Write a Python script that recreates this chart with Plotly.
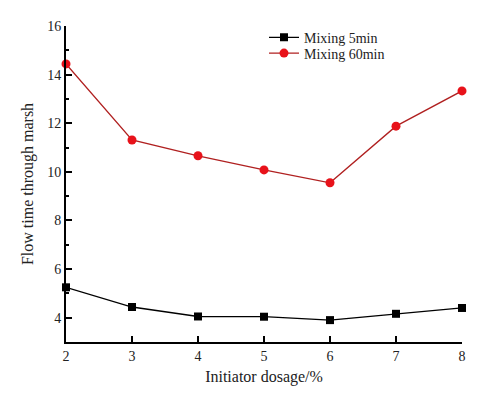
import plotly.graph_objects as go

dosage = [2, 3, 4, 5, 6, 7, 8]
mix_5min = [5.25, 4.44, 4.05, 4.04, 3.90, 4.16, 4.40]
mix_60min = [14.44, 11.31, 10.66, 10.08, 9.55, 11.88, 13.33]

fig = go.Figure()
fig.add_trace(go.Scatter(x=dosage, y=mix_5min, mode="lines+markers", name="Mixing 5min",
                         line=dict(color="black", width=1.3), cliponaxis=False,
                         marker=dict(symbol="square", size=8, color="black"),
                         legend="legend"))
fig.add_trace(go.Scatter(x=dosage, y=mix_60min, mode="lines+markers", name="Mixing 60min",
                         line=dict(color="#b02020", width=1.3), cliponaxis=False,
                         marker=dict(symbol="circle", size=9, color="#e8121a"),
                         legend="legend2"))

leg_font = dict(family="Liberation Serif", size=14, color="#222")
# page body adds an 8px offset, so the figure is shrunk by that much
fig.update_layout(
    width=472, height=387,
    margin=dict(l=58, r=18, t=11, b=53),
    paper_bgcolor="white", plot_bgcolor="white",
    font=dict(family="Liberation Serif", size=14, color="#222"),
    legend=dict(x=0.5, y=0.963, xanchor="left", yanchor="middle",
                bgcolor="rgba(0,0,0,0)", itemwidth=30, font=leg_font),
    legend2=dict(x=0.5, y=0.913, xanchor="left", yanchor="middle",
                 bgcolor="rgba(0,0,0,0)", itemwidth=30, font=leg_font),
    showlegend=True,
)
fig.update_xaxes(range=[2, 8], tickvals=dosage, showline=True, linecolor="black", linewidth=2,
                 ticks="inside", ticklen=6, tickwidth=1.5, tickcolor="black",
                 showgrid=False, zeroline=False,
                 title=dict(text="Initiator dosage/%", standoff=8, font=dict(size=16)))
fig.update_yaxes(range=[3, 16], tickvals=[4, 6, 8, 10, 12, 14, 16], showline=True,
                 linecolor="black", linewidth=2,
                 ticks="inside", ticklen=6, tickwidth=1.5, tickcolor="black",
                 minor=dict(tickvals=[5, 7, 9, 11, 13, 15], ticks="inside", ticklen=3,
                            tickwidth=1.5, tickcolor="black"),
                 showgrid=False, zeroline=False,
                 title=dict(text="Flow time through marsh", standoff=10, font=dict(size=16)))

fig.write_html("out.html")
